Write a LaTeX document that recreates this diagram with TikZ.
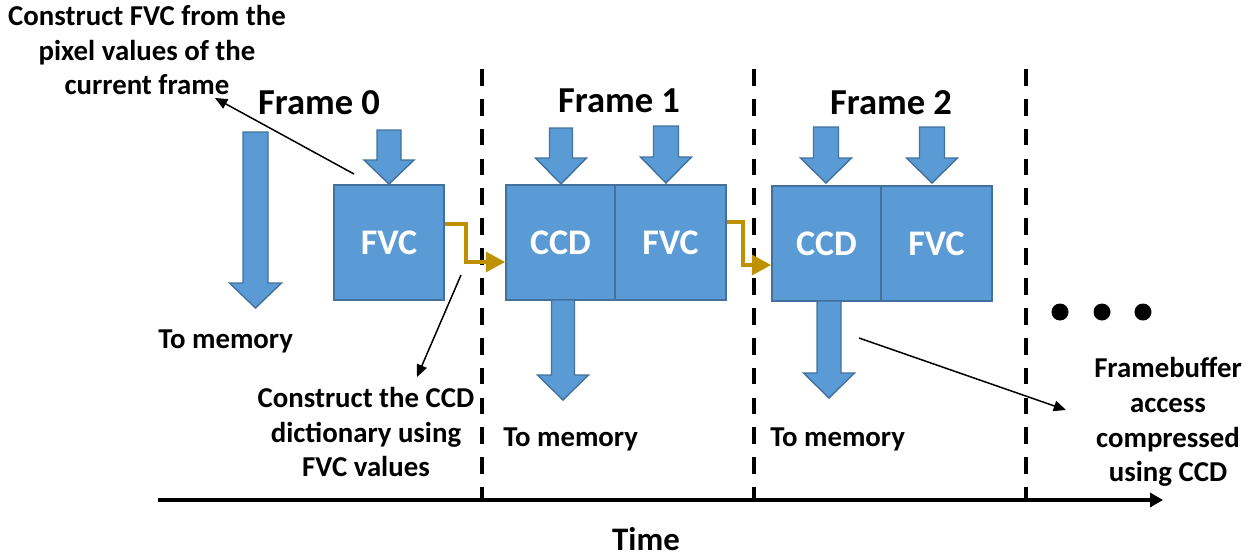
\documentclass[tikz,border=0pt]{standalone}
\usepackage{fontspec}
\setmainfont{Carlito}
\usetikzlibrary{arrows.meta}
\definecolor{blkfill}{HTML}{5B9BD5}
\definecolor{blkline}{HTML}{41719C}
\definecolor{goldc}{HTML}{BF9000}
\newcommand\blkdown[6]{% cx, ytop, yhead, ytip, halfshaft, halfhead
  \filldraw[blk] ({#1-#5},{#2}) -- ({#1+#5},{#2}) -- ({#1+#5},{#3}) -- ({#1+#6},{#3}) -- ({#1},{#4}) -- ({#1-#6},{#3}) -- ({#1-#5},{#3}) -- cycle;}
\begin{document}
\begin{tikzpicture}[x=0.02cm,y=-0.02cm,
  blk/.style={fill=blkfill,draw=blkline,line width=0.8pt,line join=miter},
  box/.style={rectangle,fill=blkfill,draw=blkline,line width=0.8pt,minimum height=2.3cm,inner sep=0pt,text=white,font=\bfseries\fontsize{20.5}{24}\selectfont},
  lbl/.style={inner sep=0pt,font=\bfseries\fontsize{16.4}{19.8}\selectfont,align=center},
  frm/.style={inner sep=0pt,font=\bfseries\fontsize{20.8}{24}\selectfont},
  ann/.style={line width=0.85pt,-{Triangle[length=7pt,width=6pt]}},
  goldarrow/.style={draw=goldc,line width=2.8pt,line join=miter,-{Triangle[length=11pt,width=11pt]}},
  sep/.style={line width=2.2pt,dash pattern=on 9.5pt off 7.5pt},
  timeline/.style={line width=2.3pt,-{Triangle[length=7.4pt,width=8pt]}}
]
\useasboundingbox (0,0) rectangle (1259,559);

% separators and time axis
\coordinate (t0) at (158,500);
\coordinate (t1) at (1163,500);
\draw[timeline] (t0) -- (t1);
\coordinate (d1a) at (482,69); \coordinate (d1b) at (482,500);
\coordinate (d2a) at (754,69); \coordinate (d2b) at (754,500);
\coordinate (d3a) at (1026,69); \coordinate (d3b) at (1026,500);
\draw[sep] (d1a) -- (d1b);
\draw[sep] (d2a) -- (d2b);
\draw[sep] (d3a) -- (d3b);
\node[inner sep=0pt,font=\bfseries\fontsize{18.7}{22}\selectfont,anchor=base] (time) at (646,550) {Time};

% frame titles
\node[frm] (f0) at (319,103) {Frame 0};
\node[frm] (f1) at (619,101) {Frame 1};
\node[frm] (f2) at (891,103) {Frame 2};

% boxes
\node[box,minimum width=2.2cm] (FVC0) at (389,242.5) {FVC};
\node[box,minimum width=2.18cm] (CCD1) at (560.5,242.5) {CCD};
\node[box,minimum width=2.22cm] (FVC1) at (670.5,242.5) {FVC};
\node[box,minimum width=2.18cm] (CCD2) at (826.5,243.5) {CCD};
\node[box,minimum width=2.22cm] (FVC2) at (936.5,243.5) {FVC};

% block arrows
\blkdown{255.5}{132}{283}{308}{12.5}{26}
\blkdown{389}{130}{160}{184}{12}{25}
\blkdown{561}{128}{158}{184}{11.5}{25.5}
\blkdown{666}{126}{157}{183}{12.5}{25.5}
\blkdown{563}{300}{375}{400}{11.5}{25.5}
\blkdown{826}{127}{158}{183}{12.5}{25.5}
\blkdown{932}{127}{158}{183}{12.5}{25.5}
\blkdown{829}{301}{373}{398}{12}{25.5}

% gold connectors
\draw[goldarrow] (FVC0.east |- 0,224) -- (466,224) -- (466,262) -- (CCD1.west |- 0,262);
\draw[goldarrow] (FVC1.east |- 0,222) -- (743,222) -- (743,265) -- (CCD2.west |- 0,265);

% dots
\fill (1060,312) circle[radius=8.5];
\fill (1102,312) circle[radius=8.5];
\fill (1143,312) circle[radius=8.5];

% texts
\node[lbl] (cfvc) at (147,50) {Construct FVC from the\\pixel values of the\\current frame};
\node[lbl,anchor=base west] (m0) at (158,348) {To memory};
\node[lbl,anchor=base west] (m1) at (503,446) {To memory};
\node[lbl,anchor=base west] (m2) at (770,446) {To memory};
\node[lbl] (cccd) at (366,432) {Construct the CCD\\dictionary using\\FVC values};
\node[lbl] (fb) at (1168,422) {Framebuffer\\access\\compressed\\using CCD};

% annotation arrows
\coordinate (a1s) at (354,174); \coordinate (a1e) at (215,98);
\coordinate (a2s) at (461,275); \coordinate (a2e) at (417,377);
\coordinate (a3s) at (859,338); \coordinate (a3e) at (1066,410);
\draw[ann] (a1s) -- (a1e);
\draw[ann] (a2s) -- (a2e);
\draw[ann] (a3s) -- (a3e);
\end{tikzpicture}
\end{document}
